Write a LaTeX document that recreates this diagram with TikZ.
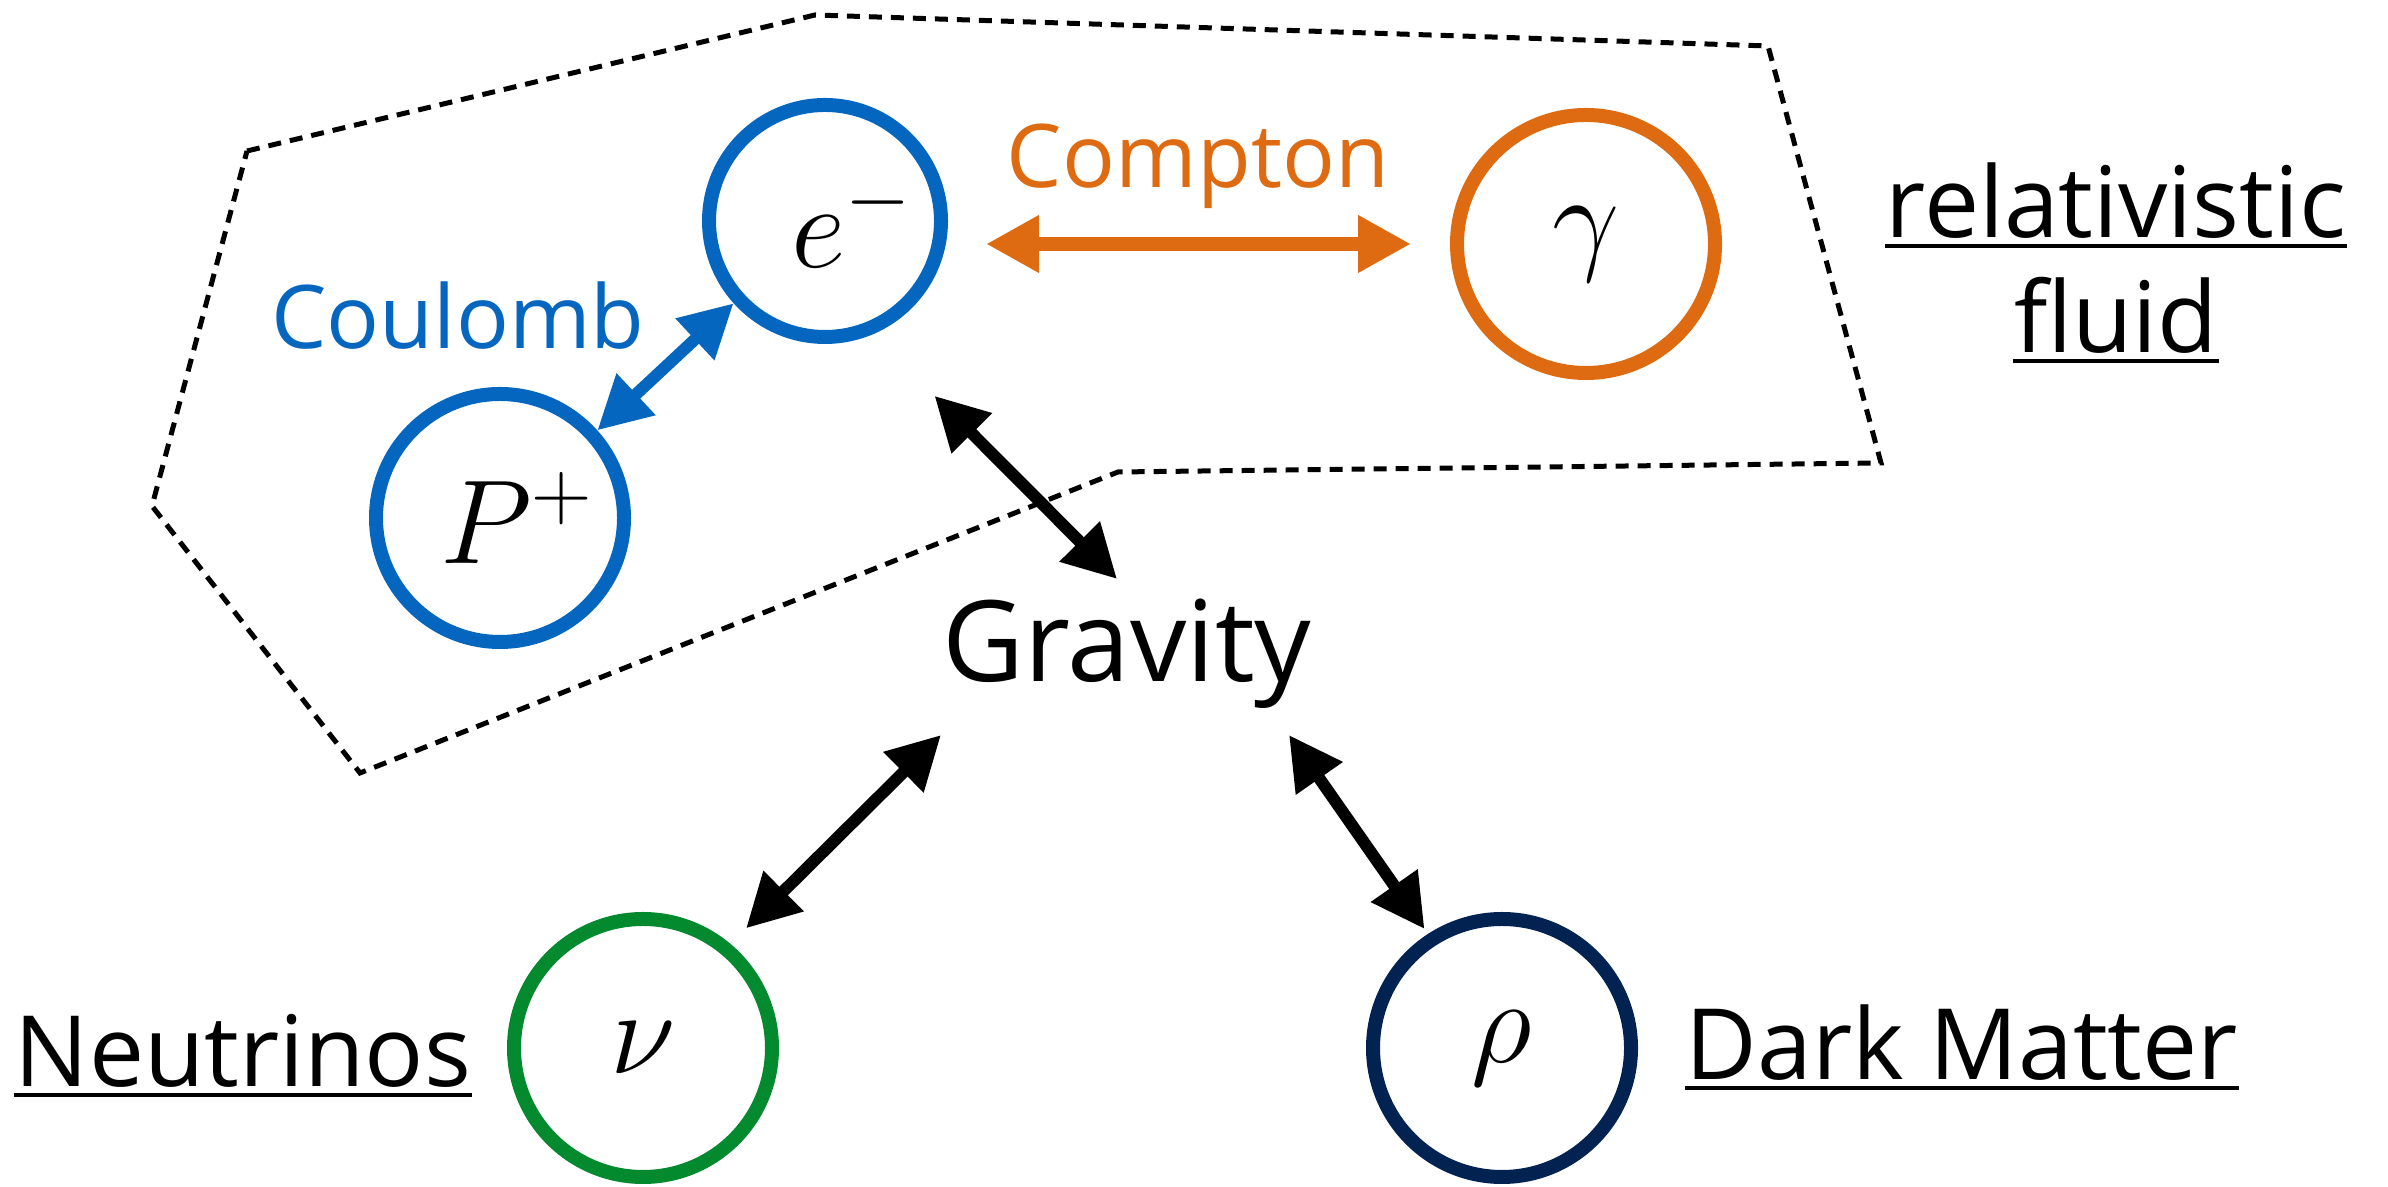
\RequirePackage{fix-cm}
\documentclass[tikz,border=0pt]{standalone}
\usepackage[no-math]{fontspec}
\setmainfont{Open Sans}
\usetikzlibrary{arrows.meta, positioning, calc}
\definecolor{cblue}{HTML}{0566C0}
\definecolor{corange}{HTML}{DE6B12}
\definecolor{cgreen}{HTML}{038A2E}
\definecolor{cnavy}{HTML}{022351}

\begin{document}
\begin{tikzpicture}[>={Triangle[width=0.54cm,length=0.53cm]},
  sym/.style={font=\fontsize{34}{40}\selectfont},
  ball/.style={circle,draw=#1,line width=0.14cm,minimum size=2.58cm,inner sep=0pt,sym},
  force/.style={<->,line width=0.12cm},
  lbl/.style={anchor=base,inner sep=0pt,font=\fontsize{#1}{#1}\selectfont},
  uline/.style={line width=0.045cm}]
\useasboundingbox (0,0) rectangle (23.88,11.87);
\draw[line width=0.05cm,dash pattern=on 0.13cm off 0.09cm] (2.47,10.36) -- (8.15,11.72) -- (17.68,11.41) -- (18.81,7.24) -- (11.18,7.15) -- (3.60,4.14) -- (1.52,6.81) -- cycle;
\node[ball=cblue,minimum size=2.32cm,label={[sym,xshift=0.27cm]center:$e^-$}] (e) at (8.25,9.66) {};
\node[ball=cblue,minimum size=2.48cm,label={[sym,xshift=0.17cm]center:$P^+$}] (p) at (5.00,6.69) {};
\node[ball=corange] (gam) at (15.86,9.43) {$\gamma$};
\node[ball=cgreen] (nu) at (6.43,1.39) {$\nu$};
\node[ball=cnavy] (rho) at (15.02,1.39) {$\rho$};
\node[lbl=32] (grav) at (11.27,5.05) {Gravity};
\node[lbl=25,text=corange] (compton) at (11.98,9.99) {Compton};
\node[lbl=25,text=cblue] (coulomb) at (4.58,8.38) {Coulomb};
\node[lbl=28] (rel) at (21.16,9.49) {relativistic};
\node[lbl=28] (fluid) at (21.16,8.34) {fluid};
\node[lbl=28] (neut) at (2.43,1.00) {Neutrinos};
\node[lbl=28] (dm) at (19.62,1.07) {Dark Matter};
\draw[force,cblue] (p.42) -- (e.222);
\draw[force,corange,line width=0.14cm,shorten <=0.38cm,shorten >=0.39cm] (e.east |- gam.west) -- (gam.west);
\draw[force,shorten <=0.87cm] (e.-67) -- ([shift={(-0.10,1.03)}]grav.base);
\draw[force,shorten >=0.22cm] ([shift={(-1.86,-0.53)}]grav.base) -- (nu.50);
\draw[force,shorten >=0.06cm] ([shift={(1.62,-0.53)}]grav.base) -- (rho.123);
\foreach \n in {rel,fluid,neut,dm}
  \draw[uline] ([yshift=-0.08cm]\n.base west) -- ([yshift=-0.08cm]\n.base east);
\end{tikzpicture}
\end{document}
